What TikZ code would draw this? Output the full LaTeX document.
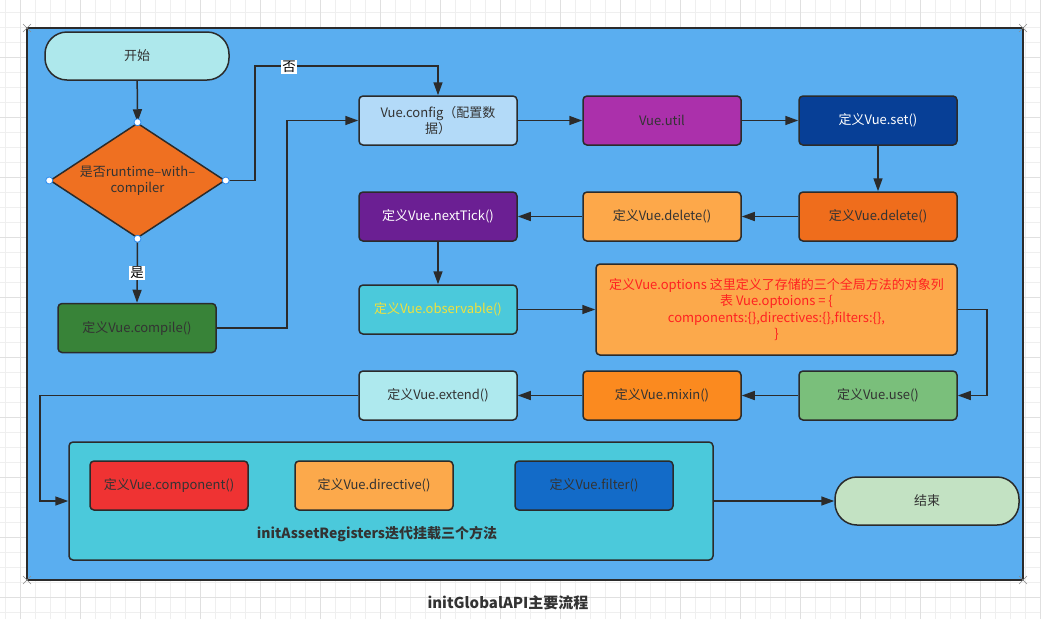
\documentclass[tikz,border=0pt]{standalone}
\usepackage{fontspec}
\setmainfont{Noto Sans CJK SC}
\usetikzlibrary{arrows.meta,shapes.geometric}

\definecolor{gridminor}{HTML}{EFEFEF}
\definecolor{gridmajor}{HTML}{E0E0E0}
\definecolor{canvas}{HTML}{5AAEF0}
\definecolor{edge}{HTML}{2B2B2B}
\definecolor{txt}{HTML}{333333}
\definecolor{cStart}{HTML}{AEE8EC}
\definecolor{cDec}{HTML}{EF7021}
\definecolor{cConfig}{HTML}{B3DAF8}
\definecolor{cUtil}{HTML}{AB30AB}
\definecolor{cSet}{HTML}{073F96}
\definecolor{cDelA}{HTML}{EF6D1C}
\definecolor{cDelB}{HTML}{FDA84A}
\definecolor{cTick}{HTML}{6B1F93}
\definecolor{cObs}{HTML}{4BC9DB}
\definecolor{cObsTxt}{HTML}{F0E13C}
\definecolor{cOpts}{HTML}{FCA94B}
\definecolor{cOptsTxt}{HTML}{FF2121}
\definecolor{cUse}{HTML}{7ABF7B}
\definecolor{cMixin}{HTML}{FB8A1F}
\definecolor{cExtend}{HTML}{AEE9EE}
\definecolor{cCompile}{HTML}{388338}
\definecolor{cGroup}{HTML}{4BC9DB}
\definecolor{cComp}{HTML}{EF3333}
\definecolor{cDir}{HTML}{FCA94B}
\definecolor{cFilt}{HTML}{136BC8}
\definecolor{cEnd}{HTML}{C3E2C3}
\definecolor{handle}{HTML}{2D8CF0}

\tikzset{
  box/.style={draw=edge, line width=1.5pt, rounded corners=4pt,
    minimum width=158pt, minimum height=49pt, inner sep=2pt,
    text=txt, align=center,
    font=\fontsize{13pt}{16pt}\selectfont},
  terminal/.style={box, rounded corners=22pt, minimum width=184pt, minimum height=48pt},
  arr/.style={draw=edge, line width=1.5pt, -{Triangle[length=13pt,width=9pt]}},
  tag/.style={fill=white, inner sep=1.5pt, text=black,
    font=\fontsize{13.5pt}{15pt}\selectfont},
  handledot/.style={circle, draw=handle, fill=white, line width=0.8pt,
    minimum size=7pt, inner sep=0pt},
  corner/.style={draw=black!45, line width=0.6pt},
}

\begin{document}
\begin{tikzpicture}[x=1pt,y=-1pt]
\useasboundingbox (0,0) rectangle (1041,619);
\fill[white] (0,0) rectangle (1041,619);

% background grid
\foreach \x in {5,20,...,1040} \draw[gridminor, line width=0.8pt] (\x,0) -- (\x,619);
\foreach \y in {12,27,...,619} \draw[gridminor, line width=0.8pt] (0,\y) -- (1041,\y);
\foreach \x in {20,80,...,1040} \draw[gridmajor, line width=1pt] (\x,0) -- (\x,619);
\foreach \y in {57,117,...,619} \draw[gridmajor, line width=1pt] (0,\y) -- (1041,\y);

% canvas
\draw[fill=canvas, draw=edge, line width=2pt] (27,28) rectangle (1023,580);
\foreach \cx/\cy in {27/28,1023/28,27/580,1023/580}
  \draw[corner] (\cx-4,\cy-4) -- (\cx+4,\cy+4) (\cx-4,\cy+4) -- (\cx+4,\cy-4);

% nodes
\node[terminal, fill=cStart] (start) at (137,56) {开始};
\node[shape=diamond, draw=edge, line width=1.5pt, fill=cDec, aspect=1.52,
      minimum width=175pt, minimum height=115pt, inner sep=0pt,
      text=txt, align=center, font=\fontsize{13pt}{16pt}\selectfont]
      (dec) at (137.5,180.5) {是否runtime–with–\\compiler};

\node[box, fill=cCompile] (compile) at (137,328) {定义Vue.compile()};
\node[box, fill=cConfig] (config) at (438,120.5) {Vue.config（配置数\\据）};
\node[box, fill=cUtil] (util) at (662,120.5) {Vue.util};
\node[box, fill=cSet, text=white] (set) at (878,120.5) {定义Vue.set()};
\node[box, fill=cDelA] (delA) at (878,216.5) {定义Vue.delete()};
\node[box, fill=cDelB] (delB) at (662,216.5) {定义Vue.delete()};
\node[box, fill=cTick, text=white] (tick) at (438,216.5) {定义Vue.nextTick()};
\node[box, fill=cObs, text=cObsTxt] (obs) at (438,309.5) {定义Vue.observable()};
\node[box, fill=cOpts, text=cOptsTxt, minimum width=361pt, minimum height=91pt,
      font=\fontsize{13pt}{16.5pt}\selectfont]
      (opts) at (776.5,309.5)
      {定义Vue.options 这里定义了存储的三个全局方法的对象列\\表 Vue.optoions = \{\\components:\{\},directives:\{\},filters:\{\},\\\}};
\node[box, fill=cUse] (use) at (878,395.5) {定义Vue.use()};
\node[box, fill=cMixin] (mixin) at (662,395.5) {定义Vue.mixin()};
\node[box, fill=cExtend] (extend) at (438,395.5) {定义Vue.extend()};

\node[box, fill=cGroup, minimum width=644pt, minimum height=118pt] (group) at (391,501) {};
\node[box, fill=cComp] (comp) at (169,485.5) {定义Vue.component()};
\node[box, fill=cDir] (dir) at (374,485.5) {定义Vue.directive()};
\node[box, fill=cFilt] (filt) at (594,485.5) {定义Vue.filter()};
\node[text=txt, font=\fontsize{14pt}{16pt}\selectfont\bfseries] (glabel) at (377,534)
      {initAssetRegisters迭代挂载三个方法};

\node[terminal, fill=cEnd] (end) at (927,501) {结束};

\node[text=txt, font=\fontsize{15pt}{17pt}\selectfont\bfseries] (caption) at (508,603)
      {initGlobalAPI主要流程};

% connectors
\draw[arr] (start) -- (dec.north);
\draw[arr] (dec.east) -| (255,66) -| (config.north);
\node[tag] (no) at (289,67) {否};
\draw[arr] (dec.south) -- (compile.north);
\node[tag] (yes) at (137,273) {是};
\draw[arr] (compile.east) -| (287,120.5) -- (config.west);
\draw[arr] (config) -- (util);
\draw[arr] (util) -- (set);
\draw[arr] (set) -- (delA);
\draw[arr] (delA) -- (delB);
\draw[arr] (delB) -- (tick);
\draw[arr] (tick) -- (obs);
\draw[arr] (obs) -- (opts);
\draw[arr] (opts.east) -- (987,309.5) |- (use.east);
\draw[arr] (use) -- (mixin);
\draw[arr] (mixin) -- (extend);
\draw[arr] (extend.west) -| (40,501) -- (group.west);
\draw[arr] (group.east) -- (end.west);

% selection handles on the decision vertices, over the connector ends
\foreach \a in {north,south,east,west} \node[handledot] at (dec.\a) {};
\end{tikzpicture}
\end{document}
